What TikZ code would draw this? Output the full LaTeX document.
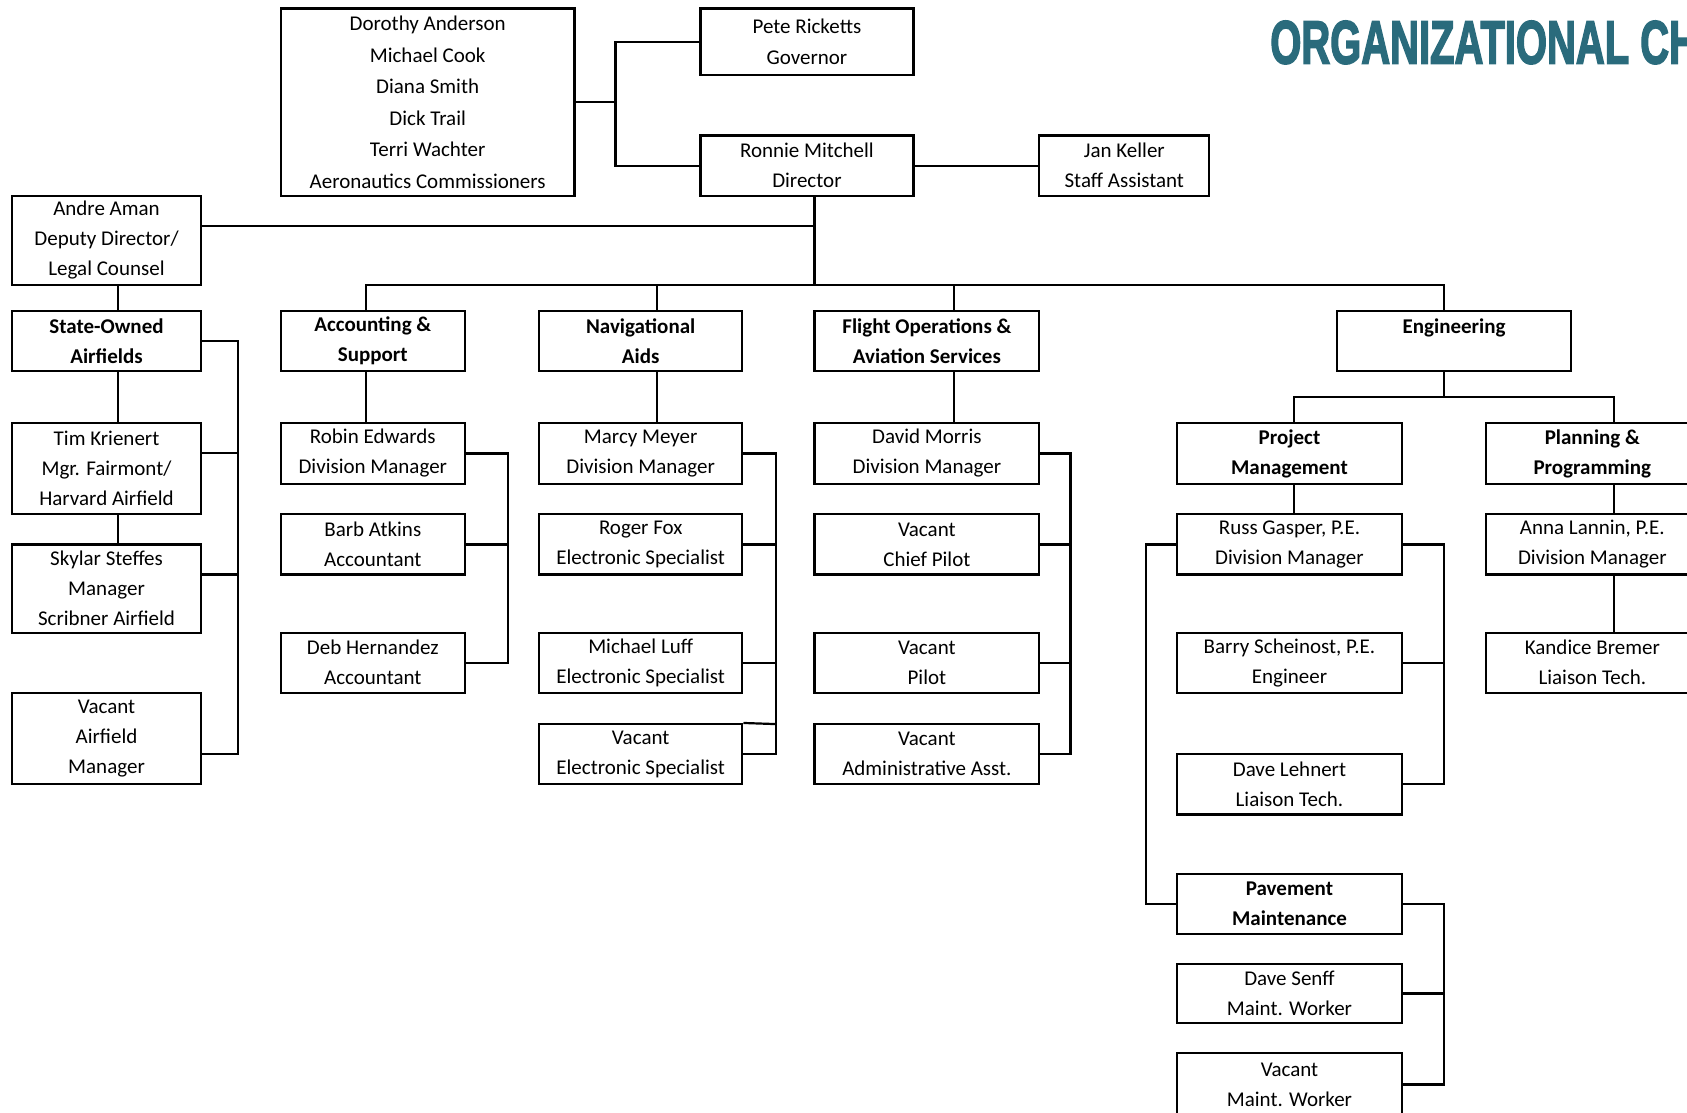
\documentclass[tikz,border=0pt]{standalone}
\usepackage{fontspec}
\setmainfont{Carlito}
\newfontfamily\titlefont[FakeBold=3]{Liberation Sans}
\usepackage{tikz}

\definecolor{titleteal}{HTML}{2A6B7C}
\newcommand{\pxu}{0.5379pt}
\newcommand{\staff}{\fontsize{10.5}{15}\selectfont}
\newcommand{\stafftall}{\fontsize{10.5}{15.8}\selectfont}

\begin{document}
\begin{tikzpicture}
    [x=0.5379pt,y=-0.5379pt,line width=1.1pt,
     box/.style={draw,inner sep=0pt,align=center,font=\staff},
     head/.style={box,font=\staff\bfseries},
     sz/.style 2 args={minimum width=#1*\pxu,minimum height=#2*\pxu}]
    \useasboundingbox (0,0) rectangle (1568,1034);
    \clip (0,0) rectangle (1568,1034);

    \node[anchor=base west,inner sep=0pt,xscale=0.655,text=titleteal,
          font=\titlefont\bfseries\fontsize{30.5}{30}\selectfont] (title) at (1180,59) {ORGANIZATIONAL CH};

    % top of the chart
    \node[box,sz={273}{174},font=\stafftall] (comm) at (397.5,95) {Dorothy Anderson\\Michael Cook\\Diana Smith\\Dick Trail\\Terri Wachter\\Aeronautics Commissioners};
    \node[box,sz={198}{62},font=\stafftall] (pete) at (750,39) {Pete Ricketts\\Governor};
    \node[box,sz={198}{56}] (ronnie) at (750,154) {Ronnie Mitchell\\Director};
    \node[box,sz={158}{56}] (jan) at (1045,154) {Jan Keller\\Staff Assistant};
    \node[box,sz={176}{83}] (andre) at (99,223.5) {Andre Aman\\Deputy Director/\\Legal Counsel};

    \coordinate (cj) at (572,95);
    \coordinate (dep) at (757,210);
    \coordinate (hub) at (757,265);
    \coordinate (busL) at (340,265);
    \coordinate (busR) at (1342,265);

    \draw (comm.east) -- (cj);
    \draw (pete.west) -| (cj) |- (ronnie.west);
    \draw (ronnie.east) -- (jan.west);
    \draw (ronnie.south -| hub) -- (hub);
    \draw (andre.east |- dep) -- (dep);

    % divisions
    \node[head,sz={176}{56}] (sob) at (99,317) {State-Owned\\Airfields};
    \node[head,sz={171}{56}] (acct) at (346.5,317) {Accounting \&\\Support};
    \node[head,sz={189}{56}] (nav) at (595.5,317) {Navigational\\Aids};
    \node[head,sz={209}{56}] (flt) at (861.5,317) {Flight Operations \&\\Aviation Services};
    \node[head,sz={217}{56}] (eng) at (1351.5,317) {Engineering\\~};

    \draw (busL |- acct.north) -- (busL) -- (busR) -- (busR |- eng.north);
    \draw (nav.north -| 611,0) -- (611,265);
    \draw (flt.north -| 887,0) -- (887,265);
    \draw (andre.south -| 110,0) -- (sob.north -| 110,0);

    % state-owned airfields
    \node[box,sz={176}{85}] (tim) at (99,435.5) {Tim Krienert\\Mgr. Fairmont/\\Harvard Airfield};
    \node[box,sz={176}{82}] (sky) at (99,547) {Skylar Steffes\\Manager\\Scribner Airfield};
    \node[box,sz={176}{85}] (vaf) at (99,686.5) {Vacant\\Airfield\\Manager};

    \draw (sob.south -| 110,0) -- (tim.north -| 110,0);
    \draw (tim.south -| 110,0) -- (sky.north -| 110,0);
    \draw (sob.east) -| (221,701) -- (vaf.east |- 0,701);
    \draw (tim.east |- 0,421) -- (221,421);
    \draw (sky.east |- 0,534) -- (221,534);

    % accounting
    \node[box,sz={171}{57}] (robin) at (346.5,421.5) {Robin Edwards\\Division Manager};
    \node[box,sz={171}{56}] (barb) at (346.5,506) {Barb Atkins\\Accountant};
    \node[box,sz={171}{56}] (deb) at (346.5,616) {Deb Hernandez\\Accountant};

    \draw (acct.south -| 340,0) -- (robin.north -| 340,0);
    \draw (robin.east) -| (472,616) -- (deb.east);
    \draw (barb.east) -- (472,506);

    % navigational aids
    \node[box,sz={189}{57}] (marcy) at (595.5,421.5) {Marcy Meyer\\Division Manager};
    \node[box,sz={189}{56}] (roger) at (595.5,506) {Roger Fox\\Electronic Specialist};
    \node[box,sz={189}{56}] (luff) at (595.5,616) {Michael Luff\\Electronic Specialist};
    \node[box,sz={189}{56}] (vaces) at (595.5,701) {Vacant\\Electronic Specialist};

    \draw (nav.south -| 611,0) -- (marcy.north -| 611,0);
    \draw (marcy.east) -| (721,701) -- (vaces.east);
    \draw (roger.east) -- (721,506);
    \draw (luff.east) -- (721,616);
    \draw (vaces.north east) -- (721,673);

    % flight operations
    \node[box,sz={209}{57}] (david) at (861.5,421.5) {David Morris\\Division Manager};
    \node[box,sz={209}{56}] (vcp) at (861.5,506) {Vacant\\Chief Pilot};
    \node[box,sz={209}{56}] (vpil) at (861.5,616) {Vacant\\Pilot};
    \node[box,sz={209}{56}] (vadm) at (861.5,701) {Vacant\\Administrative Asst.};

    \draw (flt.south -| 887,0) -- (david.north -| 887,0);
    \draw (david.east) -| (995,701) -- (vadm.east);
    \draw (vcp.east) -- (995,506);
    \draw (vpil.east) -- (995,616);

    % engineering
    \node[head,sz={209}{57}] (pm) at (1198.5,421.5) {Project\\Management};
    \node[head,sz={198}{57}] (pp) at (1480,421.5) {Planning \&\\Programming};
    \node[box,sz={209}{56}] (russ) at (1198.5,506) {Russ Gasper, P.E.\\Division Manager};
    \node[box,sz={209}{56}] (barry) at (1198.5,616) {Barry Scheinost, P.E.\\Engineer};
    \node[box,sz={209}{56}] (lehnert) at (1198.5,729) {Dave Lehnert\\Liaison Tech.};
    \node[head,sz={209}{56}] (pave) at (1198.5,840) {Pavement\\Maintenance};
    \node[box,sz={209}{55}] (senff) at (1198.5,923.5) {Dave Senff\\Maint. Worker};
    \node[box,sz={209}{58}] (vmw) at (1198.5,1008) {Vacant\\Maint. Worker};
    \node[box,sz={198}{56}] (anna) at (1480,506) {Anna Lannin, P.E.\\Division Manager};
    \node[box,sz={198}{56}] (kandice) at (1480,616) {Kandice Bremer\\Liaison Tech.};

    \draw (eng.south -| 1342,0) -- (1342,369);
    \draw (pm.north -| 1203,0) -- (1203,369) -- (1500,369) -- (pp.north -| 1500,0);
    \draw (pm.south -| 1203,0) -- (russ.north -| 1203,0);
    \draw (russ.east) -| (1342,729) -- (lehnert.east);
    \draw (barry.east) -- (1342,616);
    \draw (russ.west) -| (1065,840) -- (pave.west);
    \draw (pave.east) -| (1342,1008) -- (vmw.east);
    \draw (senff.east) -- (1342,923.5);
    \draw (pp.south -| 1500,0) -- (anna.north -| 1500,0);
    \draw (anna.south -| 1500,0) -- (kandice.north -| 1500,0);
  \end{tikzpicture}
\end{document}
